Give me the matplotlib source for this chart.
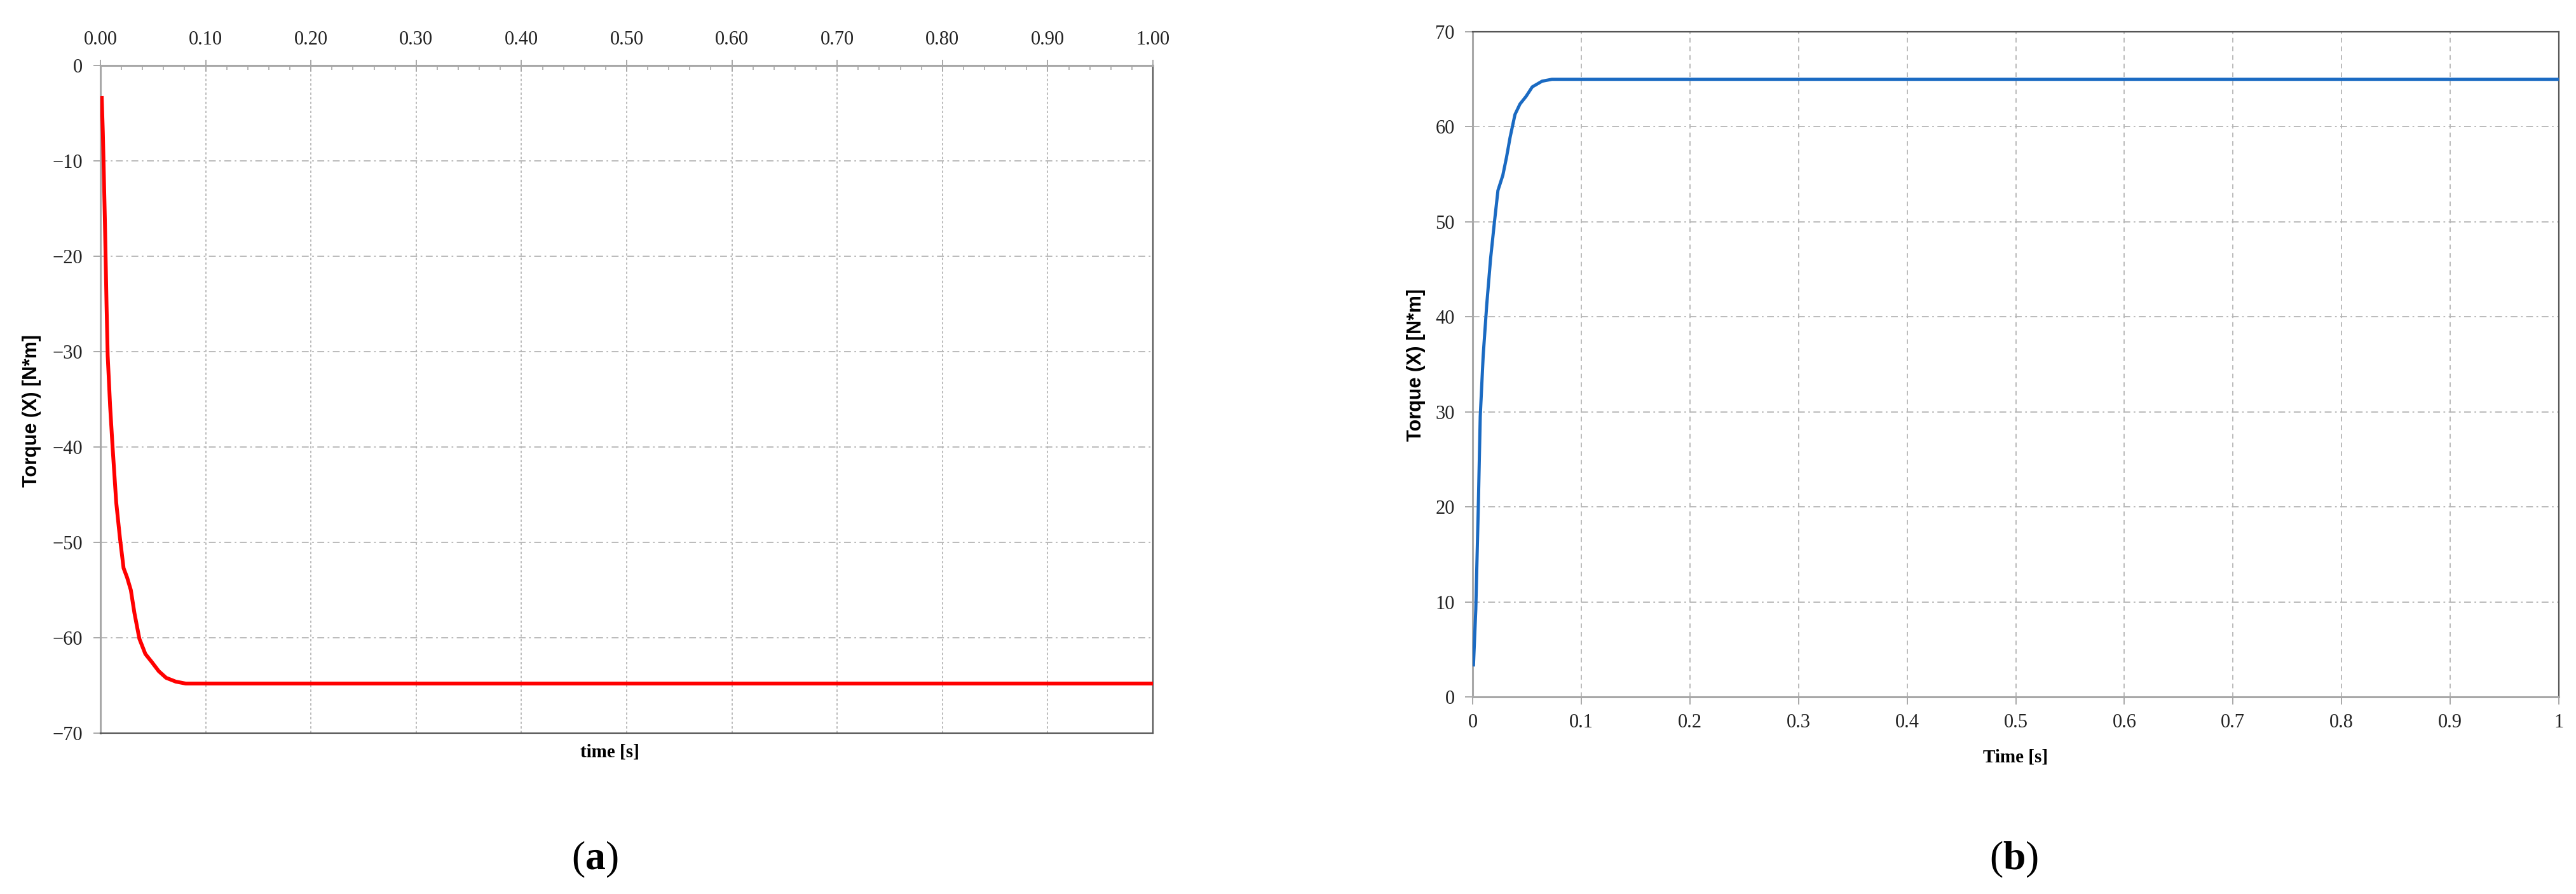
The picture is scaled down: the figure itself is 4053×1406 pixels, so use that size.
import numpy as np
import matplotlib
matplotlib.use("Agg")
import matplotlib.pyplot as plt
from matplotlib.ticker import MultipleLocator

plt.rcParams['font.family'] = ['Liberation Serif', 'DejaVu Serif']
plt.rcParams['mathtext.fontset'] = 'custom'
plt.rcParams['mathtext.rm'] = 'Liberation Serif'
plt.rcParams['mathtext.bf'] = 'Liberation Serif:bold'

# (a) torque, red curve
time_a = [0.0012, 0.0023, 0.0042, 0.0058, 0.0069, 0.0092, 0.0115, 0.015, 0.0185,
          0.022, 0.0254, 0.0289, 0.0323, 0.037, 0.0427, 0.0485, 0.0554, 0.0624,
          0.0716, 0.081, 0.2, 0.5, 1.0]
torque_a = [-3.2, -7.0, -16.0, -25.0, -30.4, -35.7, -39.9, -45.8, -49.5,
            -52.7, -53.7, -55.0, -57.4, -60.1, -61.7, -62.5, -63.5, -64.2,
            -64.6, -64.8, -64.8, -64.8, -64.8]

# (b) torque, blue curve
time_b = [0.0007, 0.0029, 0.0052, 0.007, 0.0097, 0.013, 0.0165, 0.0199, 0.0233,
          0.0278, 0.0312, 0.0345, 0.039, 0.0436, 0.0492, 0.0549, 0.0639, 0.073,
          0.082, 0.2, 0.5, 1.0]
torque_b = [3.2, 9.2, 19.9, 29.5, 35.9, 41.3, 46.1, 49.8, 53.3,
            54.9, 56.8, 58.9, 61.3, 62.4, 63.2, 64.2, 64.8, 65.0,
            65.0, 65.0, 65.0, 65.0]

W, H = 4053, 1406
fig = plt.figure(figsize=(W / 100, H / 100), dpi=100)

light = '#a8a8a8'
dark = '#555555'
gridc = '#b5b5b5'
label_font = ['Liberation Sans Narrow', 'Liberation Sans', 'DejaVu Sans']


def px_axes(x0, x1, ytop, ybot):
    return fig.add_axes([x0 / W, 1 - ybot / H, (x1 - x0) / W, (ybot - ytop) / H])


def style_spines(ax, light_sides, dark_sides):
    for s in light_sides:
        ax.spines[s].set_color(light)
        ax.spines[s].set_linewidth(2.2)
    for s in dark_sides:
        ax.spines[s].set_color(dark)
        ax.spines[s].set_linewidth(1.6)


# ---- panel (a)
ax1 = px_axes(158, 1814, 103, 1153)
ax1.plot(time_a, torque_a, color='#ff0000', lw=4.3, zorder=3, solid_capstyle='butt')
ax1.set_xlim(0, 1)
ax1.set_ylim(-70, 0)
ax1.xaxis.tick_top()
ax1.xaxis.set_major_locator(MultipleLocator(0.1))
ax1.xaxis.set_minor_locator(MultipleLocator(0.02))
ax1.yaxis.set_major_locator(MultipleLocator(10))
ax1.xaxis.set_major_formatter(lambda v, p: f'{v:.2f}')
ax1.tick_params(axis='x', which='major', direction='inout', length=13, width=1.4,
                color=light, labelsize=22, pad=12, labelcolor='#222222')
ax1.tick_params(axis='x', which='minor', direction='in', length=5, width=1.2, color=light)
ax1.tick_params(axis='y', direction='out', length=8, width=1.4, color=light,
                labelsize=22, pad=12, labelcolor='#222222')
ax1.grid(axis='x', which='major', color=gridc, lw=1.3, ls=(0, (2, 2)), zorder=0)
ax1.grid(axis='y', which='major', color=gridc, lw=1.3, ls=(0, (6, 3, 1.5, 3)), zorder=0)
style_spines(ax1, ['top', 'left'], ['bottom', 'right'])
ax1.set_xlabel('time [s]', fontsize=21, fontweight='bold')
ax1.xaxis.set_label_position('bottom')
ax1.xaxis.set_label_coords(0.484, -0.029)
ax1.xaxis.label.set_va('center')
ax1.set_ylabel('Torque (X) [N*m]', fontsize=22, fontweight='bold', family=label_font)
ax1.yaxis.set_label_coords(-0.065, 0.483)
ax1.yaxis.label.set_va('center')

# ---- panel (b)
ax2 = px_axes(2317, 4026, 50, 1096)
ax2.plot(time_b, torque_b, color='#1a6ac2', lw=3.6, zorder=3, solid_capstyle='butt')
ax2.set_xlim(0, 1)
ax2.set_ylim(0, 70)
ax2.xaxis.set_major_locator(MultipleLocator(0.1))
ax2.yaxis.set_major_locator(MultipleLocator(10))
ax2.xaxis.set_major_formatter(lambda v, p: f'{v:g}')
ax2.tick_params(axis='both', direction='out', length=8.5, width=1.4, color=light,
                labelsize=22, labelcolor='#222222')
ax2.tick_params(axis='x', pad=10)
ax2.tick_params(axis='y', pad=12)
ax2.grid(axis='x', color=gridc, lw=1.3, ls=(0, (4, 3.5)), zorder=0)
ax2.grid(axis='y', color=gridc, lw=1.3, ls=(0, (6, 3, 1.5, 3)), zorder=0)
style_spines(ax2, ['left', 'bottom'], ['top', 'right'])
ax2.set_xlabel('Time [s]', fontsize=21, fontweight='bold')
ax2.xaxis.set_label_coords(0.4997, -0.091)
ax2.xaxis.label.set_va('center')
ax2.set_ylabel('Torque (X) [N*m]', fontsize=22, fontweight='bold', family=label_font)
ax2.yaxis.set_label_coords(-0.052, 0.499)
ax2.yaxis.label.set_va('center')

# sub-figure captions
fig.text(936 / W, 1 - 1352 / H, r'($\mathbf{a}$)', fontsize=46, ha='center', va='center')
fig.text(3169 / W, 1 - 1352 / H, r'($\mathbf{b}$)', fontsize=46, ha='center', va='center')

fig.savefig('out.png', dpi=100, facecolor='white')
